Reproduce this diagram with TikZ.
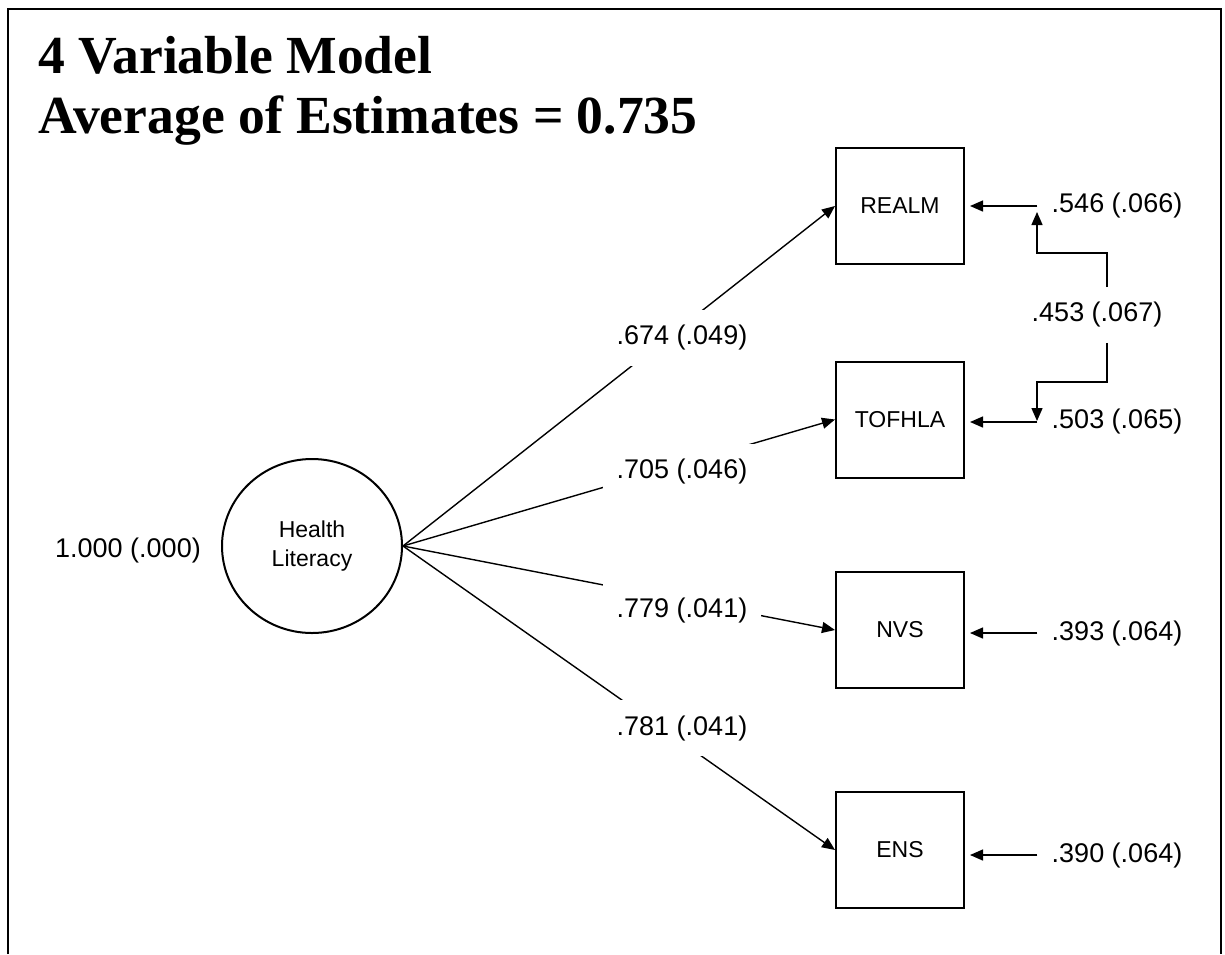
\documentclass[tikz,border=0pt]{standalone}
\usepackage{fontspec}
\setmainfont{Liberation Sans}
\newfontfamily\titlefont{Liberation Serif}
\usetikzlibrary{calc,positioning,arrows.meta,shapes,backgrounds}

\begin{document}
\begin{tikzpicture}[x=0.5pt,y=-0.5pt,>={Triangle[length=6.5pt,width=5.5pt]}]
\tikzstyle{obs}=[rectangle, draw, line width=1pt, minimum width=64pt,
                        minimum height=58pt, font=\fontsize{11.5}{13}\selectfont]
\tikzstyle{lat}=[ellipse, draw, line width=1pt, minimum width=90pt,
                        minimum height=87pt, align=center, font=\fontsize{11.5}{14.6}\selectfont]
\tikzstyle{lbl}=[inner xsep=7pt, inner ysep=7.5pt, font=\fontsize{13.5}{16}\selectfont]
\tikzstyle{ld}=[lbl, fill=white]
\tikzstyle{con}=[line width=0.7pt]
\useasboundingbox (0,0) rectangle (1225,954);
\draw[line width=1.4pt] (8,954) -- (8,9) -- (1221,9) -- (1221,954);
%\node (t0) at (38,20) {};
\node[anchor=base west, inner sep=0, font=\titlefont\bfseries\fontsize{26.8}{30}\selectfont] (t1) at (38,73) {4 Variable Model};
\node[anchor=base west, inner sep=0, font=\titlefont\bfseries\fontsize{26.8}{30}\selectfont] (t2) at (38,133) {Average of Estimates = 0.735};
\node[lat] (HL) at (312,546) {Health\\Literacy};
\node[lbl] (v) at (128,550) {1.000 (.000)};
\node[obs] (REALM) at (900,206) {REALM};
\node[obs] (TOFHLA) at (900,419.5) {TOFHLA};
\node[obs] (NVS) at (900,630) {NVS};
\node[obs] (ENS) at (900,850) {ENS};
\foreach \n/\y/\t in {l1/338/.674 (.049), l2/472/.705 (.046), l3/610/.779 (.041), l4/728/.781 (.041)}{\node[ld] (\n) at (682,\y) {\t};}
\foreach \n/\y/\t in {e1/206/.546 (.066), e2/422/.503 (.065), e3/633/.393 (.064), e4/855/.390 (.064)}{\node[lbl] (\n) at (1117,\y) {\t};}
\node[lbl] (c12) at (1097,315) {.453 (.067)};
\coordinate (c1) at (1037,212);
\coordinate (c2) at (1037,421);
\foreach \i/\j in {e1/REALM, e2/TOFHLA, e3/NVS, e4/ENS}{\draw[con,->,shorten >=2.5pt] (\i.west) -- (\j.east |- \i.west);}
\draw[con,->] ([xshift=5pt]c12.north) |- ($(c1)+(0,41)$) -- (c1);
\draw[con,->] ([xshift=5pt]c12.south) |- ($(c2)+(0,-39)$) -- (c2);
\begin{scope}[on background layer]
\foreach \j in {REALM, TOFHLA, NVS, ENS}{\draw[con,->] (HL.east) -- (\j.west);}
\end{scope}
\end{tikzpicture}
\end{document}
